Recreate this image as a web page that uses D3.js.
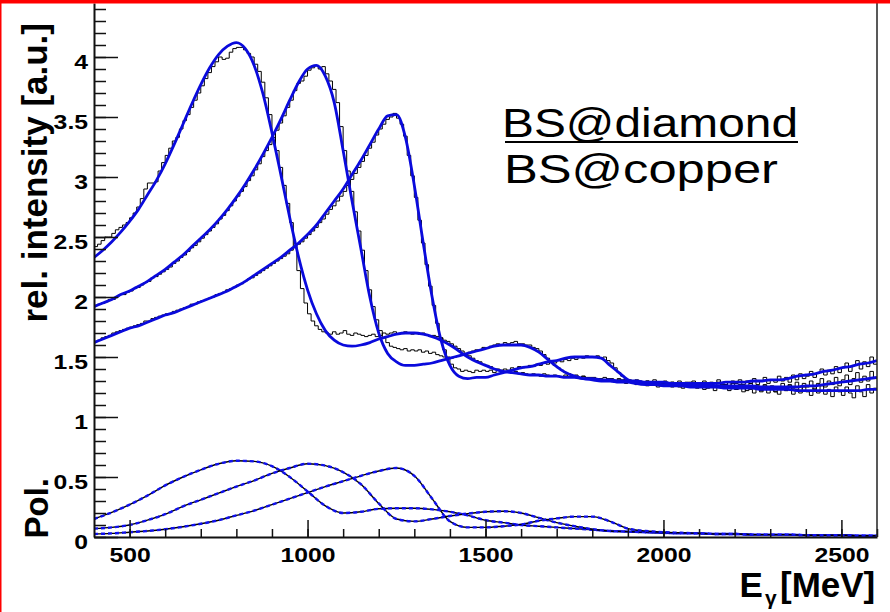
<!DOCTYPE html>
<html>
<head>
<meta charset="utf-8">
<script src="https://cdnjs.cloudflare.com/ajax/libs/d3/7.8.5/d3.min.js"></script>
<style>
  html, body { margin: 0; padding: 0; background: #fff; }
  svg { display: block; }
  text { font-family: "Liberation Sans", Arial, Helvetica, sans-serif; }
</style>
</head>
<body>
<svg id="chart" width="890" height="612"></svg>
<script>
// ---- axis ticks ----
const xTickValues = [500, 1000, 1500, 2000, 2500];
const xMinorTicks = d3.range(500, 2601, 100);
const yTickValues = [0, 0.5, 1, 1.5, 2, 2.5, 3, 3.5, 4];
const yMinorTicks = d3.range(0, 45).map(i => i / 10);

// ---- energy grids (MeV) ----
const fitEnergy = d3.range(400, 2601, 25);     // fit curves
const binEnergy = d3.range(400, 2600, 10);     // measured spectra, 10 MeV bins (lower edges)
const polEnergy = d3.range(400, 2601, 50);     // polarisation curves

// ---- relative intensity: fitted curves (three edge settings) ----
const fitA = [
  2.33,2.39,2.46,2.54,2.63,2.73,2.85,2.97,3.11,3.27,
  3.44,3.61,3.77,3.91,4.02,4.09,4.12,4.07,3.93,3.69,
  3.37,3.02,2.66,2.33,2.06,1.86,1.72,1.64,1.60,1.59,
  1.60,1.62,1.65,1.67,1.69,1.70,1.70,1.69,1.67,1.64,
  1.60,1.55,1.50,1.46,1.43,1.40,1.38,1.37,1.36,1.35,
  1.35,1.34,1.34,1.33,1.33,1.32,1.32,1.31,1.31,1.30,
  1.30,1.30,1.29,1.29,1.29,1.28,1.28,1.28,1.28,1.28,
  1.28,1.29,1.29,1.29,1.30,1.30,1.31,1.31,1.32,1.34,
  1.35,1.36,1.38,1.39,1.41,1.42,1.44,1.45,1.47];
const fitB = [
  1.92,1.95,1.98,2.02,2.05,2.09,2.13,2.18,2.23,2.29,
  2.35,2.42,2.49,2.56,2.64,2.73,2.83,2.94,3.06,3.19,
  3.33,3.48,3.64,3.79,3.90,3.93,3.84,3.62,3.22,2.80,
  2.40,2.00,1.70,1.53,1.46,1.43,1.43,1.44,1.45,1.47,
  1.49,1.51,1.53,1.55,1.57,1.59,1.60,1.60,1.60,1.58,
  1.54,1.48,1.42,1.37,1.34,1.32,1.31,1.30,1.30,1.29,
  1.29,1.28,1.28,1.28,1.27,1.27,1.27,1.27,1.27,1.27,
  1.26,1.26,1.26,1.26,1.26,1.25,1.25,1.25,1.25,1.25,
  1.26,1.26,1.27,1.28,1.29,1.30,1.31,1.32,1.33];
const fitC = [
  1.62,1.65,1.68,1.71,1.74,1.76,1.79,1.82,1.85,1.87,
  1.90,1.93,1.96,1.99,2.02,2.05,2.09,2.13,2.18,2.23,
  2.28,2.33,2.39,2.45,2.52,2.60,2.70,2.80,2.90,3.02,
  3.14,3.27,3.40,3.51,3.52,3.33,2.93,2.45,2.00,1.64,
  1.43,1.34,1.32,1.33,1.33,1.35,1.37,1.39,1.41,1.42,
  1.44,1.46,1.47,1.49,1.50,1.50,1.50,1.49,1.43,1.37,
  1.31,1.28,1.27,1.27,1.26,1.26,1.26,1.25,1.25,1.25,
  1.25,1.24,1.24,1.24,1.24,1.23,1.23,1.23,1.23,1.22,
  1.22,1.22,1.22,1.22,1.22,1.22,1.22,1.23,1.23];

// ---- relative intensity: measured spectra ----
const dataA = [
  2.42,2.44,2.47,2.50,2.50,2.53,2.56,2.58,2.60,2.62,
  2.66,2.70,2.75,2.82,2.90,2.95,2.95,2.96,3.05,3.12,
  3.18,3.24,3.30,3.33,3.40,3.47,3.52,3.58,3.64,3.70,
  3.76,3.82,3.87,3.92,3.96,4.00,3.98,3.99,4.04,4.07,
  4.08,4.08,4.06,4.03,4.00,3.94,3.88,3.79,3.66,3.52,
  3.37,3.22,3.08,2.93,2.78,2.62,2.42,2.22,2.07,1.95,
  1.86,1.80,1.76,1.73,1.71,1.70,1.69,1.71,1.69,1.70,
  1.72,1.69,1.68,1.70,1.69,1.68,1.67,1.68,1.69,1.67,
  1.68,1.70,1.69,1.70,1.71,1.69,1.70,1.71,1.70,1.69,
  1.70,1.69,1.70,1.68,1.67,1.68,1.67,1.66,1.64,1.63,
  1.61,1.59,1.57,1.55,1.53,1.51,1.49,1.47,1.46,1.44,
  1.43,1.42,1.40,1.40,1.39,1.38,1.38,1.37,1.38,1.36,
  1.37,1.36,1.35,1.36,1.35,1.34,1.36,1.35,1.34,1.35,
  1.34,1.33,1.35,1.34,1.33,1.34,1.32,1.34,1.33,1.32,
  1.33,1.31,1.32,1.33,1.31,1.32,1.30,1.32,1.31,1.30,
  1.31,1.29,1.31,1.30,1.28,1.30,1.29,1.31,1.28,1.29,
  1.30,1.27,1.29,1.28,1.30,1.27,1.29,1.26,1.30,1.28,
  1.27,1.30,1.26,1.29,1.28,1.31,1.27,1.29,1.26,1.30,
  1.28,1.31,1.27,1.30,1.28,1.32,1.27,1.30,1.33,1.28,
  1.31,1.29,1.34,1.30,1.33,1.29,1.35,1.31,1.36,1.32,
  1.34,1.38,1.33,1.37,1.40,1.35,1.39,1.36,1.42,1.37,
  1.41,1.45,1.38,1.43,1.47,1.40,1.46,1.42,1.50,1.44];
const dataB = [
  1.93,1.94,1.95,1.96,1.98,1.98,2.00,2.02,2.02,2.04,
  2.05,2.07,2.08,2.10,2.12,2.13,2.16,2.17,2.19,2.21,
  2.23,2.25,2.28,2.30,2.33,2.35,2.38,2.41,2.43,2.46,
  2.49,2.52,2.55,2.58,2.61,2.65,2.68,2.72,2.76,2.80,
  2.84,2.88,2.92,2.97,3.01,3.06,3.11,3.17,3.22,3.27,
  3.33,3.39,3.45,3.51,3.58,3.64,3.72,3.78,3.80,3.84,
  3.89,3.91,3.93,3.90,3.92,3.86,3.80,3.73,3.62,3.42,
  3.22,3.05,2.88,2.71,2.55,2.39,2.22,2.06,1.92,1.81,
  1.72,1.66,1.62,1.59,1.58,1.57,1.56,1.57,1.55,1.56,
  1.55,1.56,1.54,1.55,1.53,1.54,1.52,1.51,1.50,1.50,
  1.49,1.50,1.51,1.52,1.52,1.54,1.55,1.56,1.56,1.58,
  1.57,1.59,1.60,1.61,1.60,1.62,1.61,1.62,1.63,1.61,
  1.61,1.60,1.60,1.58,1.57,1.55,1.52,1.49,1.46,1.43,
  1.41,1.39,1.37,1.36,1.34,1.35,1.33,1.34,1.32,1.33,
  1.31,1.32,1.30,1.31,1.32,1.30,1.29,1.31,1.30,1.28,
  1.30,1.29,1.27,1.29,1.28,1.30,1.27,1.28,1.29,1.26,
  1.28,1.26,1.29,1.27,1.25,1.28,1.26,1.29,1.25,1.27,
  1.26,1.28,1.24,1.27,1.25,1.29,1.24,1.27,1.25,1.28,
  1.23,1.27,1.25,1.22,1.28,1.24,1.26,1.21,1.27,1.24,
  1.26,1.21,1.25,1.28,1.22,1.27,1.24,1.29,1.22,1.28,
  1.25,1.30,1.23,1.28,1.32,1.25,1.30,1.27,1.33,1.26,
  1.31,1.35,1.27,1.32,1.37,1.29,1.34,1.30,1.38,1.32];
const dataC = [
  1.63,1.64,1.66,1.67,1.68,1.70,1.71,1.72,1.73,1.74,
  1.75,1.76,1.77,1.78,1.80,1.80,1.82,1.83,1.84,1.85,
  1.86,1.86,1.88,1.89,1.90,1.91,1.92,1.94,1.94,1.96,
  1.97,1.98,1.99,2.00,2.02,2.03,2.04,2.06,2.07,2.08,
  2.10,2.11,2.13,2.15,2.16,2.18,2.20,2.22,2.24,2.26,
  2.28,2.30,2.32,2.34,2.36,2.39,2.41,2.44,2.46,2.49,
  2.52,2.55,2.58,2.62,2.65,2.69,2.73,2.76,2.80,2.84,
  2.88,2.93,2.98,3.03,3.08,3.13,3.18,3.24,3.29,3.35,
  3.40,3.44,3.48,3.50,3.53,3.49,3.44,3.34,3.18,3.01,
  2.83,2.64,2.45,2.27,2.09,1.93,1.78,1.66,1.56,1.49,
  1.44,1.41,1.40,1.38,1.39,1.38,1.37,1.39,1.38,1.39,
  1.38,1.39,1.37,1.39,1.38,1.40,1.39,1.41,1.40,1.42,
  1.41,1.42,1.43,1.42,1.44,1.43,1.45,1.44,1.46,1.45,
  1.47,1.46,1.48,1.47,1.49,1.48,1.50,1.49,1.51,1.50,
  1.50,1.51,1.49,1.50,1.47,1.45,1.41,1.37,1.34,1.31,
  1.30,1.28,1.29,1.27,1.28,1.26,1.28,1.27,1.25,1.28,
  1.26,1.27,1.25,1.28,1.26,1.24,1.27,1.25,1.28,1.24,
  1.26,1.23,1.27,1.25,1.22,1.26,1.24,1.27,1.22,1.25,
  1.23,1.26,1.21,1.25,1.23,1.20,1.25,1.22,1.26,1.20,
  1.24,1.21,1.19,1.25,1.22,1.26,1.19,1.23,1.20,1.25,
  1.21,1.18,1.24,1.20,1.26,1.19,1.23,1.17,1.25,1.21,
  1.18,1.25,1.20,1.16,1.26,1.21,1.17,1.27,1.20,1.24];

// ---- degree of linear polarisation ----
const polA = [
  0.15,0.205,0.27,0.345,0.43,0.50,0.56,0.61,0.635,0.63,
  0.59,0.50,0.38,0.26,0.20,0.21,0.235,0.24,0.24,0.23,
  0.21,0.18,0.14,0.12,0.10,0.09,0.08,0.07,0.06,0.05,
  0.045,0.04,0.035,0.03,0.03,0.025,0.025,0.02,0.02,0.02,
  0.015,0.015,0.015,0.01,0.01];
const polB = [
  0.07,0.08,0.10,0.14,0.19,0.255,0.31,0.365,0.42,0.47,
  0.53,0.575,0.61,0.595,0.54,0.44,0.28,0.15,0.13,0.15,
  0.175,0.195,0.21,0.215,0.20,0.16,0.12,0.09,0.065,0.05,
  0.045,0.04,0.035,0.03,0.03,0.025,0.025,0.02,0.02,0.02,
  0.015,0.015,0.015,0.01,0.01];
const polC = [
  0.025,0.03,0.04,0.05,0.065,0.085,0.11,0.14,0.18,0.22,
  0.27,0.32,0.37,0.42,0.465,0.51,0.55,0.575,0.51,0.32,
  0.13,0.08,0.08,0.09,0.105,0.135,0.155,0.17,0.17,0.13,
  0.07,0.05,0.04,0.035,0.03,0.025,0.025,0.02,0.02,0.02,
  0.015,0.015,0.015,0.01,0.01];

// ---- texts ----
const yTitle = "rel. intensity [a.u.]";
const polTitle = "Pol.";
const legendLines = ["BS@diamond", "BS@copper"];

// ---- scales ----
const svg = d3.select("#chart");
const x = d3.scaleLinear().domain([400, 2600]).range([94, 877]);
const y = d3.scaleLinear().domain([0, 4.45]).range([537, 3]);

svg.append("defs").append("clipPath").attr("id", "plotClip")
  .append("rect").attr("x", 94).attr("y", 3).attr("width", 783).attr("height", 534);

const plot = svg.append("g").attr("clip-path", "url(#plotClip)");

const smooth = d3.line().x(d => x(d[0])).y(d => y(d[1])).curve(d3.curveMonotoneX);
const steps = d3.line().x(d => x(d[0])).y(d => y(d[1])).curve(d3.curveStepAfter);

function histPoints(vals) {
  const pts = vals.map((v, i) => [binEnergy[i], v]);
  pts.push([binEnergy[vals.length - 1] + 10, vals[vals.length - 1]]);
  return pts;
}

// polarisation: black solid with blue dashed overlay
[polA, polB, polC].forEach(p => {
  const pts = p.map((v, i) => [polEnergy[i], v]);
  plot.append("path").attr("d", smooth(pts)).attr("fill", "none")
    .attr("stroke", "#000").attr("stroke-width", 1.4);
  plot.append("path").attr("d", smooth(pts)).attr("fill", "none")
    .attr("stroke", "#1010ee").attr("stroke-width", 2.4)
    .attr("stroke-dasharray", "4,3");
});

// measured spectra (thin black histograms)
[dataA, dataB, dataC].forEach(d => {
  plot.append("path").attr("d", steps(histPoints(d))).attr("fill", "none")
    .attr("stroke", "#000").attr("stroke-width", 1);
});

// fitted spectra (blue)
[fitA, fitB, fitC].forEach(f => {
  const pts = f.map((v, i) => [fitEnergy[i], v]);
  plot.append("path").attr("d", smooth(pts)).attr("fill", "none")
    .attr("stroke", "#0a0adc").attr("stroke-width", 2.8);
});

// ---- axes ----
const tickFont = { size: "19.5px", sx: 1.27 };

const xMinorAxis = svg.append("g").attr("transform", "translate(0,537)")
  .call(d3.axisBottom(x).tickValues(xMinorTicks).tickSize(-8).tickFormat(""));
xMinorAxis.select(".domain").remove();

const xAxis = svg.append("g").attr("transform", "translate(0,537)")
  .call(d3.axisBottom(x).tickValues(xTickValues).tickSizeInner(-17).tickSizeOuter(0)
    .tickFormat(d3.format("d")));
xAxis.selectAll("text")
  .attr("y", 25).attr("dy", 0)
  .attr("transform", `scale(${tickFont.sx},1)`)
  .attr("font-size", tickFont.size).attr("font-weight", "bold")
  .attr("font-family", "Liberation Sans, Arial, sans-serif").attr("fill", "#000");

const yMinorAxis = svg.append("g").attr("transform", "translate(94,0)")
  .call(d3.axisLeft(y).tickValues(yMinorTicks).tickSize(-12).tickFormat(""));
yMinorAxis.select(".domain").remove();

const yAxis = svg.append("g").attr("transform", "translate(94,0)")
  .call(d3.axisLeft(y).tickValues(yTickValues).tickSizeInner(-24).tickSizeOuter(0)
    .tickPadding(0).tickFormat(d => d3.format("~g")(d)));
yAxis.selectAll("text")
  .attr("x", -6 / tickFont.sx).attr("dy", 11)
  .attr("transform", `scale(${tickFont.sx},1)`)
  .attr("font-size", tickFont.size).attr("font-weight", "bold")
  .attr("font-family", "Liberation Sans, Arial, sans-serif").attr("fill", "#000");

svg.selectAll(".tick line").attr("stroke", "#111").attr("stroke-width", 1.5);
svg.selectAll(".domain").attr("stroke", "#111").attr("stroke-width", 2);

// right frame edge
svg.append("line").attr("x1", x(2600)).attr("x2", x(2600)).attr("y1", y(4.45)).attr("y2", y(0))
  .attr("stroke", "#222").attr("stroke-width", 1.5);

// ---- axis titles ----
svg.append("text")
  .attr("transform", "translate(46.5,23) rotate(-90)")
  .attr("text-anchor", "end")
  .attr("font-size", "35px").attr("font-weight", "bold")
  .text(yTitle);

svg.append("text")
  .attr("transform", "translate(48,478) rotate(-90)")
  .attr("text-anchor", "end")
  .attr("font-size", "33px").attr("font-weight", "bold")
  .text(polTitle);

svg.append("text").attr("x", 739.5).attr("y", 597)
  .attr("font-size", "35px").attr("font-weight", "bold").text("E");
svg.append("text").attr("x", 765).attr("y", 605)
  .attr("font-size", "21px").attr("font-weight", "bold").text("γ");
svg.append("text").attr("x", 780).attr("y", 597)
  .attr("font-size", "35px").attr("font-weight", "bold").text("[MeV]");

// ---- legend text ----
svg.append("text").attr("x", 502).attr("y", 137)
  .attr("font-size", "41px").attr("textLength", 296).attr("lengthAdjust", "spacingAndGlyphs")
  .text(legendLines[0]);
svg.append("line").attr("x1", 505).attr("x2", 798).attr("y1", 142).attr("y2", 142)
  .attr("stroke", "#000").attr("stroke-width", 2);
svg.append("text").attr("x", 504).attr("y", 183)
  .attr("font-size", "41px").attr("textLength", 274).attr("lengthAdjust", "spacingAndGlyphs")
  .text(legendLines[1]);

// ---- slide border ----
svg.append("rect").attr("x", 0).attr("y", 0).attr("width", 890).attr("height", 3.5).attr("fill", "#ff0000");
svg.append("rect").attr("x", 0).attr("y", 0).attr("width", 1.5).attr("height", 612).attr("fill", "#ff0000");
</script>
</body>
</html>
